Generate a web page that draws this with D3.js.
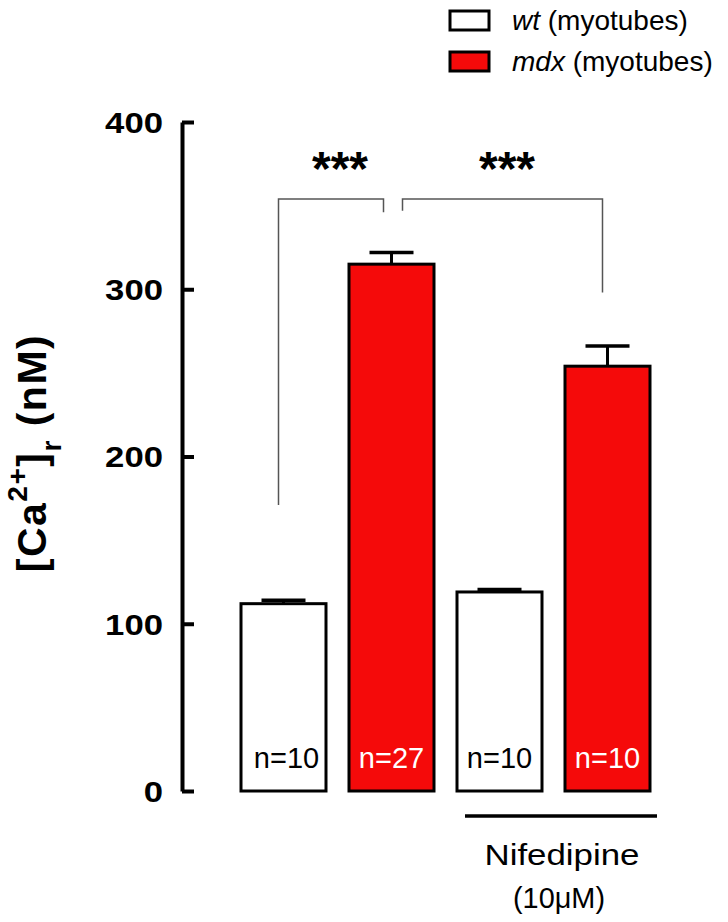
<!DOCTYPE html>
<html><head><meta charset="utf-8">
<script src="https://cdn.jsdelivr.net/npm/d3@7"></script>
<style>body{margin:0;background:#fff}svg{display:block;font-family:"Liberation Sans",Arial,sans-serif}</style>
</head><body>
<script>
const categories = ["wt", "mdx", "wt + Nifedipine", "mdx + Nifedipine"];
const groups = ["wt", "mdx", "wt", "mdx"];
const means = [112, 315, 119, 254];
const sems = [2, 7, 1.5, 12];
const nLabels = ["n=10", "n=27", "n=10", "n=10"];
const yTicks = [0, 100, 200, 300, 400];
const legendItems = [{key: "wt", it: "wt", rest: " (myotubes)"}, {key: "mdx", it: "mdx", rest: " (myotubes)"}];
const colors = {wt: "#ffffff", mdx: "#f50a0a"};

const W = 728, H = 922;
const svg = d3.select("body").append("svg").attr("width", W).attr("height", H);

const x = d3.scaleBand().domain(categories).range([218, 673]).padding(0.213);
const y = d3.scaleLinear().domain([0, 400]).range([791, 122]);

// y axis
const ax = svg.append("g").attr("transform", "translate(182,0)")
  .call(d3.axisLeft(y).tickValues(yTicks).tickSizeInner(-12).tickSizeOuter(0).tickPadding(19));
ax.select(".domain").attr("stroke", "#000").attr("stroke-width", 4);
ax.selectAll(".tick line").attr("stroke", "#000").attr("stroke-width", 4);
ax.selectAll(".tick text").attr("fill", "#000").style("font-family", "'Liberation Sans', Arial, sans-serif")
  .style("font-weight", "bold").style("font-size", "29px").attr("dy", "0.36em")
  .attr("textLength", d => String(d).length * 19.3).attr("lengthAdjust", "spacingAndGlyphs");

// y label
const yl = svg.append("text").attr("transform", "translate(46,453) rotate(-90)")
  .attr("text-anchor", "middle").style("font-weight", "bold").style("font-size", "41px")
  .style("letter-spacing", "1.5px").attr("fill", "#000");
yl.append("tspan").text("[Ca");
yl.append("tspan").text("2+").attr("dy", -19).style("font-size", "28px");
yl.append("tspan").text("]").attr("dy", 19);
yl.append("tspan").text("r").attr("dy", 15).style("font-size", "28px");
yl.append("tspan").text(" (nM)").attr("dy", -15);

// error bars
const eb = svg.append("g");
categories.forEach((c, i) => {
  const cx = x(c) + x.bandwidth() / 2;
  const top = y(means[i] + sems[i]);
  eb.append("line").attr("x1", cx).attr("x2", cx).attr("y1", y(means[i])).attr("y2", top)
    .attr("stroke", "#000").attr("stroke-width", 3);
  eb.append("line").attr("x1", cx - 22).attr("x2", cx + 22).attr("y1", top).attr("y2", top)
    .attr("stroke", "#000").attr("stroke-width", 3.5);
});

// bars
svg.append("g").selectAll("rect").data(categories).join("rect")
  .attr("x", d => x(d)).attr("width", x.bandwidth())
  .attr("y", (d, i) => y(means[i])).attr("height", (d, i) => y(0) - y(means[i]))
  .attr("fill", (d, i) => colors[groups[i]]).attr("stroke", "#000").attr("stroke-width", 3);

// n labels
svg.append("g").selectAll("text").data(categories).join("text")
  .attr("x", (d, i) => x(d) + x.bandwidth() / 2 + (i === 0 ? 3 : 0)).attr("y", 768)
  .attr("text-anchor", "middle").style("font-size", "29px")
  .attr("fill", (d, i) => groups[i] === "mdx" ? "#fff" : "#000")
  .text((d, i) => nLabels[i]);

// significance brackets
const cxOf = i => x(categories[i]) + x.bandwidth() / 2;
const br = svg.append("g").attr("fill", "none").attr("stroke", "#555").attr("stroke-width", 1.5);
br.append("path").attr("d", `M${cxOf(0) - 5},${y(171)}V${y(354)}H${cxOf(1) - 8}V${y(346)}`);
br.append("path").attr("d", `M${cxOf(1) + 11},${y(347)}V${y(354)}H${cxOf(3) - 5}V${y(298)}`);
svg.append("text").attr("x", 340).attr("y", 185).attr("text-anchor", "middle")
  .style("font-size", "48px").style("font-weight", "bold").text("***");
svg.append("text").attr("x", 507).attr("y", 185).attr("text-anchor", "middle")
  .style("font-size", "48px").style("font-weight", "bold").text("***");

// Nifedipine
svg.append("line").attr("x1", 465).attr("x2", 657).attr("y1", 816).attr("y2", 816)
  .attr("stroke", "#000").attr("stroke-width", 3.5);
svg.append("text").attr("x", 562).attr("y", 865).attr("text-anchor", "middle").style("font-size", "29px")
  .attr("textLength", 155).attr("lengthAdjust", "spacingAndGlyphs").text("Nifedipine");
svg.append("text").attr("x", 559).attr("y", 908).attr("text-anchor", "middle").style("font-size", "29px")
  .attr("textLength", 92).attr("lengthAdjust", "spacingAndGlyphs").text("(10\u03bcM)");

// legend
const lg = svg.append("g").selectAll("g").data(legendItems).join("g")
  .attr("transform", (d, i) => `translate(0,${i * 41})`);
lg.append("rect").attr("x", 450).attr("y", 11).attr("width", 39).attr("height", 19)
  .attr("fill", d => colors[d.key]).attr("stroke", "#000").attr("stroke-width", 3);
const lt = lg.append("text").attr("x", 512).attr("y", 30).style("font-size", "28px").attr("fill", "#000");
lt.append("tspan").style("font-style", "italic").text(d => d.it);
lt.append("tspan").text(d => d.rest);
</script>
</body></html>
